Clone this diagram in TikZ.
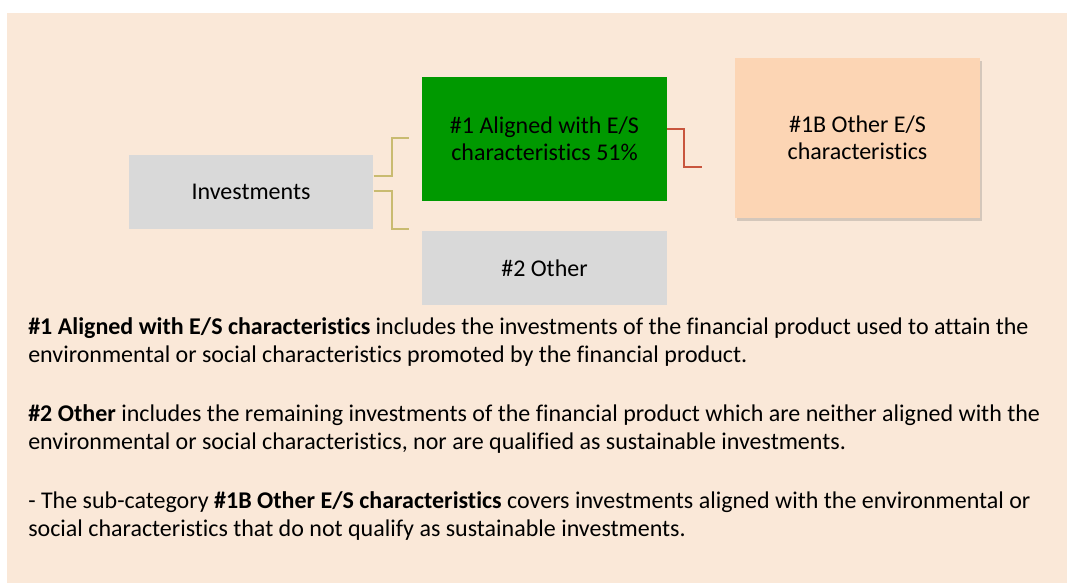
\documentclass[tikz,border=0pt]{standalone}
\usepackage{fontspec}
\setmainfont{Carlito}[Ligatures=NoCommon]
\usetikzlibrary{calc,shadows}

\definecolor{pagebg}{HTML}{FAE8D8}
\definecolor{boxgray}{HTML}{D9D9D9}
\definecolor{boxgreen}{HTML}{009900}
\definecolor{boxpeach}{HTML}{FCD5B4}
\definecolor{treetan}{HTML}{C9BB70}
\definecolor{treered}{HTML}{C8553D}

\begin{document}
\begin{tikzpicture}[x=0.75pt, y=-0.75pt,
    cat/.style   ={font=\fontsize{18}{20.5}\selectfont, text=black, align=center, inner sep=0pt,
                   minimum width=183.5pt},
    para/.style  ={font=\fontsize{18}{21}\selectfont, text=black, align=left, inner sep=0pt, anchor=base west},
    treelink/.style={treetan, line width=1.6pt},
    sublink/.style ={treered, line width=1.6pt},
  ]

  % ---------------- page ----------------------------------------------------
  \useasboundingbox (0,0) rectangle (1067,583);
  \fill[pagebg] (7,13) rectangle (1067,583);

  % ---------------- the categories -----------------------------------------
  \node[cat, fill=boxgray,  minimum height=55.5pt] (inv)     at (251,192)   {Investments};
  \node[cat, fill=boxgreen, minimum height=93pt]   (aligned) at (544.5,139) {\#1 Aligned with E/S\\characteristics 51\%};
  \node[cat, fill=boxgray,  minimum height=55.5pt] (other)   at (544.5,268) {\#2 Other};
  \node[cat, fill=boxpeach, minimum height=120pt,
        drop shadow={shadow xshift=1.5pt, shadow yshift=-2.5pt, opacity=0.25, fill=black!60}]
        (otherES) at (857.5,138) {\#1B Other E/S\\characteristics};

  % ---------------- tree lines ---------------------------------------------
  \coordinate (toAligned) at (409,138);
  \coordinate (toOther)   at (409,229);
  \coordinate (toSub)     at (702,167);
  \draw[treelink] ($(inv.east)+(0,-16)$) -- ++(18,0) |- (toAligned);
  \draw[treelink] ($(inv.east)+(0,-1)$)  -- ++(18,0) |- (toOther);
  \draw[sublink]  ($(aligned.east)+(0,-10)$) -- ++(17,0) |- (toSub);

  % ---------------- explanations (anchored on the last line) ---------------
  \node[para] (expAligned) at (28,362) {\textbf{\#1 Aligned with E/S characteristics} includes the investments of the financial product used to attain the\\
    environmental or social characteristics promoted by the financial product.};
  \node[para] (expOther) at (28,449) {\textbf{\#2 Other} includes the remaining investments of the financial product which are neither aligned with the\\
    environmental or social characteristics, nor are qualified as sustainable investments.};
  \node[para] (expSub) at (28,536) {- The sub-category \textbf{\#1B Other E/S characteristics} covers investments aligned with the environmental or\\
    social characteristics that do not qualify as sustainable investments.};

\end{tikzpicture}
\end{document}
